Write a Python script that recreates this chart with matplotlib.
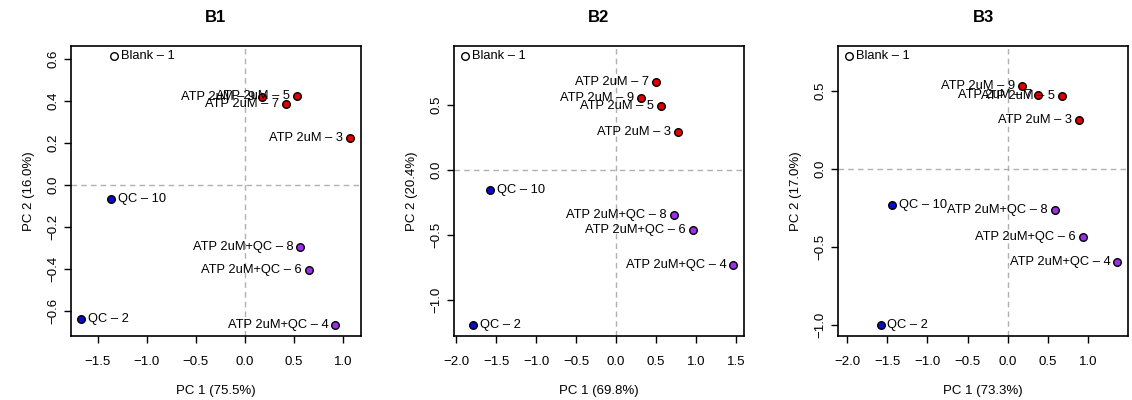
import matplotlib
matplotlib.use("Agg")
import matplotlib.pyplot as plt

plt.rcParams['font.family'] = ['Liberation Sans', 'DejaVu Sans']

# sample names and groups (same for all three batches)
names = ["Blank – 1", "QC – 2", "ATP 2uM – 3", "ATP 2uM+QC – 4", "ATP 2uM – 5",
         "ATP 2uM+QC – 6", "ATP 2uM – 7", "ATP 2uM+QC – 8", "ATP 2uM – 9", "QC – 10"]
groups = ["blank", "qc", "atp", "atpqc", "atp", "atpqc", "atp", "atpqc", "atp", "qc"]

# PCA scores
b1_pc1 = [-1.333, -1.663, 1.071, 0.922, 0.531, 0.653, 0.422, 0.565, 0.173, -1.367]
b1_pc2 = [0.613, -0.639, 0.226, -0.667, 0.422, -0.406, 0.385, -0.293, 0.420, -0.068]
b2_pc1 = [-1.896, -1.796, 0.773, 1.466, 0.560, 0.957, 0.501, 0.723, 0.313, -1.583]
b2_pc2 = [0.876, -1.196, 0.294, -0.732, 0.492, -0.459, 0.675, -0.343, 0.552, -0.157]
b3_pc1 = [-1.980, -1.584, 0.884, 1.366, 0.675, 0.933, 0.384, 0.584, 0.180, -1.446]
b3_pc2 = [0.720, -1.000, 0.316, -0.594, 0.468, -0.434, 0.474, -0.261, 0.532, -0.233]

titles = ["B1", "B2", "B3"]
xlabels = ["PC 1 (75.5%)", "PC 1 (69.8%)", "PC 1 (73.3%)"]
ylabels = ["PC 2 (16.0%)", "PC 2 (20.4%)", "PC 2 (17.0%)"]
xticks = [[-1.5, -1.0, -0.5, 0.0, 0.5, 1.0],
          [-2.0, -1.5, -1.0, -0.5, 0.0, 0.5, 1.0, 1.5],
          [-2.0, -1.5, -1.0, -0.5, 0.0, 0.5, 1.0]]
yticks = [[-0.6, -0.4, -0.2, 0.0, 0.2, 0.4, 0.6],
          [-1.0, -0.5, 0.0, 0.5],
          [-1.0, -0.5, 0.0, 0.5]]

colors = {"blank": "white", "qc": "#0a0ad0", "atp": "#e00000", "atpqc": "#9a30e8"}

fig = plt.figure(figsize=(11.32, 4), dpi=100)
lefts = [0.0625, 0.401, 0.7403]

data = [(b1_pc1, b1_pc2), (b2_pc1, b2_pc2), (b3_pc1, b3_pc2)]
for i, (xs, ys) in enumerate(data):
    ax = fig.add_axes([lefts[i], 0.16, 0.2562, 0.726])
    ax.axhline(0, color="#b0b0b0", ls=(0, (4, 3)), lw=1, zorder=1)
    ax.axvline(0, color="#b0b0b0", ls=(0, (4, 3)), lw=1, zorder=1)
    for x, y, n, g in zip(xs, ys, names, groups):
        ax.scatter(x, y, s=30, c=colors[g], edgecolors="black", linewidths=1, zorder=3)
        if g in ("blank", "qc"):
            ax.annotate(n, (x, y), xytext=(5, 0), textcoords="offset points",
                        ha="left", va="center", fontsize=9.3, zorder=4)
        else:
            ax.annotate(n, (x, y), xytext=(-5, 0), textcoords="offset points",
                        ha="right", va="center", fontsize=9.3, zorder=4)
    # R style 4% padding
    xr = max(xs) - min(xs)
    yr = max(ys) - min(ys)
    ax.set_xlim(min(xs) - 0.04 * xr, max(xs) + 0.04 * xr)
    ax.set_ylim(min(ys) - 0.04 * yr, max(ys) + 0.04 * yr)
    ax.set_xticks(xticks[i])
    ax.set_yticks(yticks[i])
    ax.set_xticklabels([f"{t:.1f}".replace("-", "\u2212") for t in xticks[i]])
    ax.set_yticklabels([f"{t:.1f}".replace("-", "\u2212") for t in yticks[i]],
                       rotation=90, va="center")
    ax.tick_params(direction="out", length=5, width=1, labelsize=9.5)
    ax.tick_params(axis="x", pad=9.5)
    ax.tick_params(axis="y", pad=3.3)
    for sp in ax.spines.values():
        sp.set_linewidth(1.2)
    ax.set_xlabel(xlabels[i], fontsize=9.5, labelpad=12)
    ax.set_ylabel(ylabels[i], fontsize=9.5, labelpad=9)
    ax.set_title(titles[i], fontsize=12, fontweight="bold", pad=17)

fig.savefig("out.png", dpi=100)
